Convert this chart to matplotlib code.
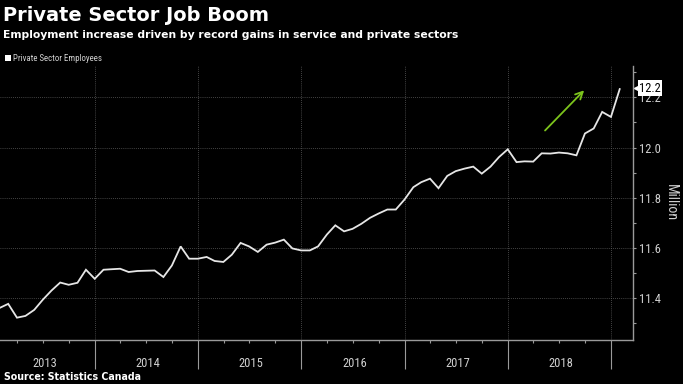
"""
Private Sector Job Boom -- Canadian private sector employees, monthly.
Writes out.png (683x384).
"""

import matplotlib
matplotlib.use("Agg")
import matplotlib.pyplot as plt
import matplotlib.dates as mdates
import matplotlib.transforms as mtransforms
from matplotlib import font_manager
import pandas as pd

# private sector employees, millions, Jan 2013 .. Jan 2019 (month end)
START = "2013-01-31"
EMPLOYEES = [
    11.362, 11.377, 11.322, 11.329, 11.353, 11.393, 11.430, 11.462, 11.453, 11.461, 11.513, 11.477,
    11.513, 11.515, 11.517, 11.504, 11.508, 11.509, 11.510, 11.484, 11.530, 11.606, 11.557, 11.557,
    11.564, 11.548, 11.544, 11.573, 11.620, 11.606, 11.584, 11.613, 11.621, 11.633, 11.598, 11.590,
    11.590, 11.606, 11.653, 11.690, 11.666, 11.676, 11.696, 11.720, 11.737, 11.753, 11.753, 11.793,
    11.842, 11.862, 11.876, 11.838, 11.887, 11.906, 11.916, 11.924, 11.896, 11.924, 11.962, 11.993,
    11.942, 11.945, 11.944, 11.977, 11.976, 11.980, 11.977, 11.969, 12.056, 12.076, 12.142, 12.122,
    12.233,
]
YEARS = [2013, 2014, 2015, 2016, 2017, 2018]
Y_TICKS = [11.4, 11.6, 11.8, 12.0, 12.2]
LAST_LABEL = "12.2"
# green "trend" arrow (tail, head)
ARROW_TAIL = ("2018-05-05", 12.06)
ARROW_HEAD = ("2018-10-04", 12.236)

BG = "black"
LINE = "#e6e6e6"
TXT = "#d0d0d0"
AXIS = "#9a9a9a"
GRID = "#5a5a5a"
GREEN = "#7cc41c"

avail = {f.name for f in font_manager.fontManager.ttflist}
NARROW = next((f for f in ["Liberation Sans Narrow", "Roboto Condensed",
                           "DejaVu Sans Condensed"] if f in avail), "DejaVu Sans")
plt.rcParams["font.family"] = [NARROW, "DejaVu Sans"]
HEAD = ["DejaVu Sans"]

dates = pd.date_range(START, periods=len(EMPLOYEES), freq="ME")

fig = plt.figure(figsize=(6.83, 3.84), dpi=100, facecolor=BG)
ax = fig.add_axes([0, 1 - 340 / 384, 633 / 683, 274 / 384], facecolor=BG)

ax.plot(dates, EMPLOYEES, color=LINE, lw=1.3, solid_joinstyle="miter")

ax.set_xlim(pd.Timestamp("2013-01-30"), pd.Timestamp("2019-03-19"))
ax.set_ylim(11.233, 12.325)

# x axis: long ticks at year boundaries, short quarterly ones, year names centred
ax.xaxis.set_major_locator(mdates.YearLocator())
ax.xaxis.set_minor_locator(mdates.MonthLocator(bymonth=[4, 7, 10]))
ax.xaxis.set_major_formatter(plt.NullFormatter())
ax.tick_params(axis="x", which="major", length=21, width=0.8, color=AXIS)
ax.tick_params(axis="x", which="minor", length=2.5, width=0.8, color=AXIS)
for yr in YEARS:
    ax.text(pd.Timestamp(f"{yr}-07-08"), -0.084, str(yr), transform=ax.get_xaxis_transform(),
            ha="center", va="center", color=TXT, fontsize=9)

# y axis on the right
ax.yaxis.tick_right()
ax.set_yticks(Y_TICKS)
ax.set_yticks([v + 0.1 for v in [11.2] + Y_TICKS[:-1]] + [12.3], minor=True)
ax.set_yticklabels([f"{v:.1f}" for v in Y_TICKS])
ax.tick_params(axis="y", which="both", length=2.5, width=0.8, color=AXIS,
               labelcolor=TXT, labelsize=9, pad=2)
ax.set_ylabel("Million", color=TXT, fontsize=10, rotation=270, labelpad=12)
ax.yaxis.set_label_position("right")

for side in ["top", "left"]:
    ax.spines[side].set_visible(False)
for side in ["bottom", "right"]:
    ax.spines[side].set_color(AXIS)
    ax.spines[side].set_linewidth(1.0)

ax.grid(True, which="major", color=GRID, linestyle=(0, (1, 1.5)), linewidth=0.6)

# green arrow
ax.annotate("", xy=(pd.Timestamp(ARROW_HEAD[0]), ARROW_HEAD[1]),
            xytext=(pd.Timestamp(ARROW_TAIL[0]), ARROW_TAIL[1]),
            arrowprops=dict(arrowstyle="->", color=GREEN, lw=1.3, mutation_scale=13))

# last value box on the axis
trans = mtransforms.offset_copy(ax.get_yaxis_transform(), fig=fig, x=6, y=1, units="dots")
ax.text(1.0, EMPLOYEES[-1], LAST_LABEL, transform=trans, ha="left", va="center",
        color="black", fontsize=9, clip_on=False, zorder=5,
        bbox=dict(boxstyle="square,pad=0.12", fc="white", ec="none"))
mtrans = mtransforms.offset_copy(ax.get_yaxis_transform(), fig=fig, x=4, y=1, units="dots")
ax.plot([1.0], [EMPLOYEES[-1]], marker="<", color="white", ms=5, transform=mtrans,
        clip_on=False, zorder=5)

# titles, legend, source
title = fig.text(3 / 683, 1 - 21 / 384, "Private Sector Job Boom", color="white",
                 fontsize=13, fontweight="bold", va="baseline", family=HEAD)
sub = fig.text(3 / 683, 1 - 37.5 / 384,
               "Employment increase driven by record gains in service and private sectors",
               color="white", fontsize=8, fontweight="bold", va="baseline", family=HEAD)
fig.patches.append(plt.Rectangle((5 / 683, 1 - 61 / 384), 6 / 683, 6 / 384, fc="white",
                                 ec="none", transform=fig.transFigure, figure=fig))
leg = fig.text(13 / 683, 1 - 61 / 384, "Private Sector Employees", color=TXT, fontsize=7,
               va="baseline")
src = fig.text(4 / 683, 1 - 380 / 384, "Source: Statistics Canada", color="white",
               fontsize=7, fontweight="bold", va="baseline", family=HEAD)

# size the header/footer texts to the widths they take in the original
renderer = fig.canvas.get_renderer()
for t, width_px in [(title, 264), (sub, 452), (leg, 90), (src, 139)]:
    w = t.get_window_extent(renderer).width
    t.set_fontsize(t.get_fontsize() * width_px / w)

fig.savefig("out.png", dpi=100, facecolor=BG)
